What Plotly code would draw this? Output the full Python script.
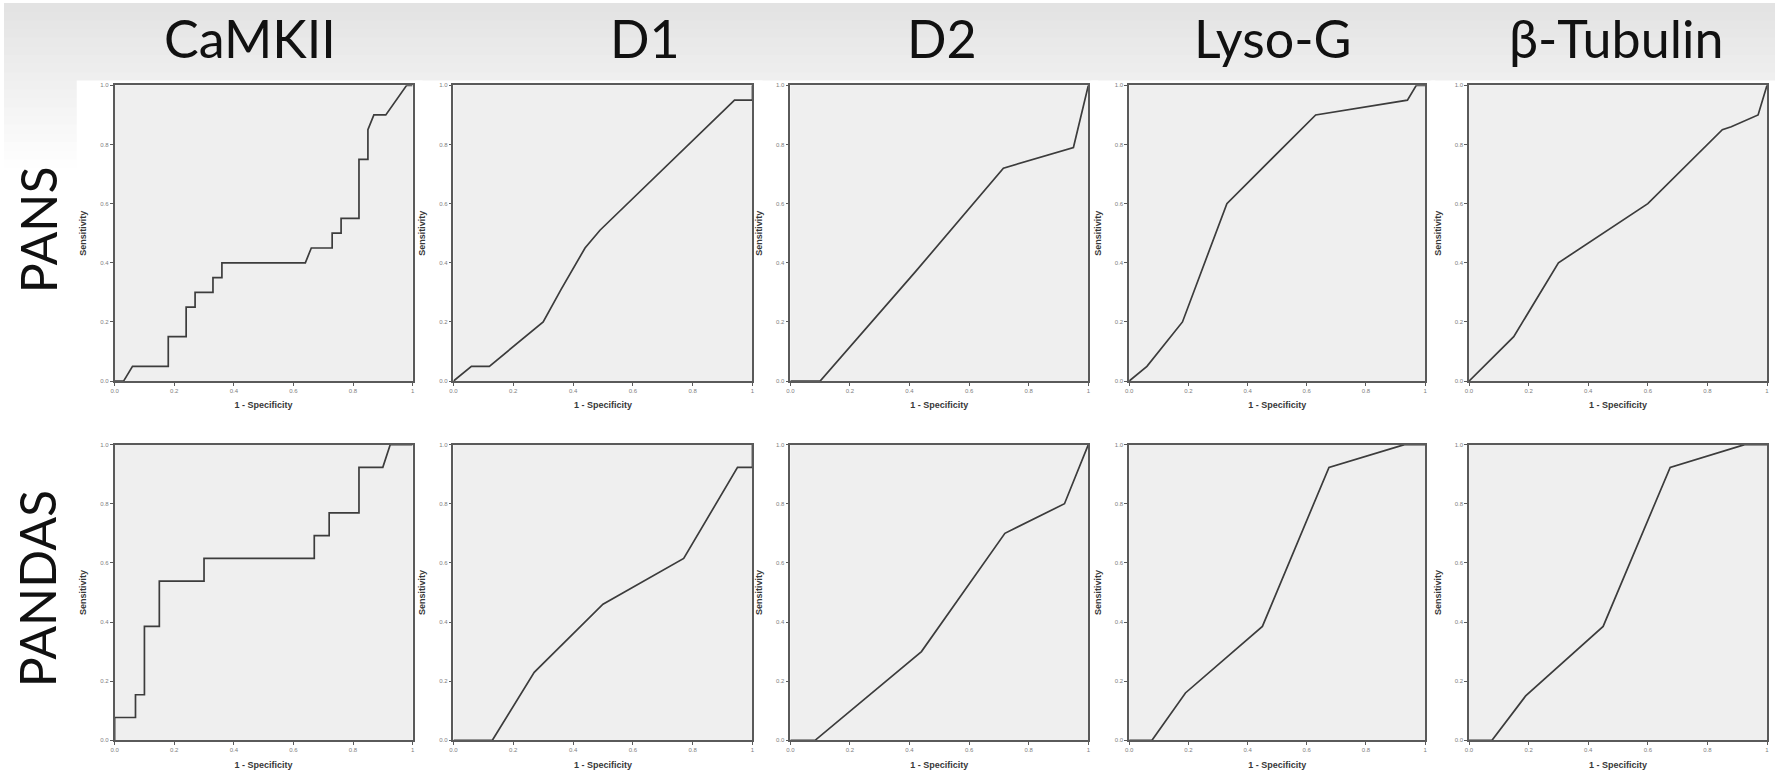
import plotly.graph_objects as go

# ---------------- data ----------------
markers = ["CaMKII", "D1", "D2", "Lyso-G", "β-Tubulin"]
groups = ["PANS", "PANDAS"]

# PANS row (1 - specificity, sensitivity)
camkii_pans_x = [0, 0.03, 0.06, 0.18, 0.18, 0.24, 0.24, 0.27, 0.27, 0.33, 0.33, 0.36, 0.36, 0.64, 0.66,
                 0.73, 0.73, 0.76, 0.76, 0.82, 0.82, 0.85, 0.85, 0.87, 0.91, 0.98, 1.0]
camkii_pans_y = [0, 0, 0.05, 0.05, 0.15, 0.15, 0.25, 0.25, 0.30, 0.30, 0.35, 0.35, 0.40, 0.40, 0.45,
                 0.45, 0.50, 0.50, 0.55, 0.55, 0.75, 0.75, 0.85, 0.90, 0.90, 1.0, 1.0]
d1_pans_x = [0, 0.06, 0.12, 0.30, 0.36, 0.44, 0.49, 0.94, 1.0, 1.0]
d1_pans_y = [0, 0.05, 0.05, 0.20, 0.31, 0.45, 0.51, 0.95, 0.95, 1.0]
d2_pans_x = [0, 0.10, 0.42, 0.715, 0.95, 1.0]
d2_pans_y = [0, 0, 0.37, 0.72, 0.79, 1.0]
lyso_pans_x = [0, 0.06, 0.18, 0.33, 0.63, 0.94, 0.97, 1.0]
lyso_pans_y = [0, 0.05, 0.20, 0.60, 0.90, 0.95, 1.0, 1.0]
tub_pans_x = [0, 0.15, 0.30, 0.60, 0.85, 0.88, 0.97, 1.0]
tub_pans_y = [0, 0.15, 0.40, 0.60, 0.85, 0.86, 0.90, 1.0]

# PANDAS row
camkii_pandas_x = [0, 0, 0.07, 0.07, 0.10, 0.10, 0.15, 0.15, 0.30, 0.30, 0.67, 0.67, 0.72, 0.72,
                   0.82, 0.82, 0.90, 0.925, 1.0]
camkii_pandas_y = [0, 0.077, 0.077, 0.154, 0.154, 0.385, 0.385, 0.538, 0.538, 0.615, 0.615, 0.692,
                   0.692, 0.769, 0.769, 0.923, 0.923, 1.0, 1.0]
d1_pandas_x = [0, 0.13, 0.27, 0.50, 0.77, 0.95, 1.0, 1.0]
d1_pandas_y = [0, 0, 0.23, 0.46, 0.615, 0.923, 0.923, 1.0]
d2_pandas_x = [0, 0.083, 0.44, 0.72, 0.92, 1.0]
d2_pandas_y = [0, 0, 0.30, 0.70, 0.80, 1.0]
lyso_pandas_x = [0, 0.077, 0.19, 0.45, 0.675, 0.93, 1.0]
lyso_pandas_y = [0, 0, 0.16, 0.385, 0.923, 1.0, 1.0]
tub_pandas_x = [0, 0.077, 0.19, 0.45, 0.675, 0.925, 1.0]
tub_pandas_y = [0, 0, 0.15, 0.385, 0.923, 1.0, 1.0]

x_tick_vals = [0, 0.2, 0.4, 0.6, 0.8, 1.0]
x_tick_text = ["0.0", "0.2", "0.4", "0.6", "0.8", "1"]
y_tick_vals = [0, 0.2, 0.4, 0.6, 0.8, 1.0]
y_tick_text = ["0.0", "0.2", "0.4", "0.6", "0.8", "1.0"]

series = [
    [(camkii_pans_x, camkii_pans_y), (d1_pans_x, d1_pans_y), (d2_pans_x, d2_pans_y),
     (lyso_pans_x, lyso_pans_y), (tub_pans_x, tub_pans_y)],
    [(camkii_pandas_x, camkii_pandas_y), (d1_pandas_x, d1_pandas_y), (d2_pandas_x, d2_pandas_y),
     (lyso_pandas_x, lyso_pandas_y), (tub_pandas_x, tub_pandas_y)],
]

# ---------------- layout ----------------
W, H = 1777, 781
cols_px = [(111, 410), (451, 751), (789, 1088), (1129, 1426), (1470, 1769)]
rows_px = [(83, 381), (445, 743)]
title_cx = [247, 643, 941, 1273, 1617]
row_label_cy = [228, 590]

PLOT_BG = "#efefef"
AX_COL = "#5a5a5a"
LINE_COL = "#3c3c3c"

fig = go.Figure()
layout = dict(
    width=W, height=H, margin=dict(l=0, r=0, t=0, b=0),
    paper_bgcolor="white", plot_bgcolor=PLOT_BG, showlegend=False,
)
shapes = []
# slide-like grey gradient at the top
n_bands = 20
top_c, bot_c = 0xe3, 0xff
band_h = 175 / n_bands
for i in range(n_bands):
    c = int(round(top_c + (bot_c - top_c) * i / (n_bands - 1)))
    col = f"rgb({c},{c},{c})"
    shapes.append(dict(type="rect", xref="paper", yref="paper", layer="below",
                       x0=0, x1=1, y0=1 - (i + 1) * band_h / H - 0.001, y1=1 - i * band_h / H,
                       fillcolor=col, line=dict(width=0)))
# white chart-image backgrounds
for r, (t, b) in enumerate(rows_px):
    for c, (l, rr) in enumerate(cols_px):
        shapes.append(dict(type="rect", xref="paper", yref="paper", layer="below",
                           x0=(l - 38) / W, x1=(rr + 10) / W, y0=1 - (b + 40) / H, y1=1 - (t - 5) / H,
                           fillcolor="white", line=dict(width=0)))
# plot-area fills
for r, (t, b) in enumerate(rows_px):
    for c, (l, rr) in enumerate(cols_px):
        shapes.append(dict(type="rect", xref="paper", yref="paper", layer="below",
                           x0=l / W, x1=rr / W, y0=1 - b / H, y1=1 - t / H,
                           fillcolor=PLOT_BG, line=dict(width=0)))

k = 0
for r, (t, b) in enumerate(rows_px):
    for c, (l, rr) in enumerate(cols_px):
        k += 1
        xs, ys = series[r][c]
        xa = "x" if k == 1 else f"x{k}"
        ya = "y" if k == 1 else f"y{k}"
        fig.add_trace(go.Scatter(x=xs, y=ys, mode="lines", xaxis=xa, yaxis=ya,
                                 line=dict(color=LINE_COL, width=1.7), hoverinfo="skip"))
        xkey = "xaxis" if k == 1 else f"xaxis{k}"
        ykey = "yaxis" if k == 1 else f"yaxis{k}"
        layout[xkey] = dict(
            domain=[l / W, rr / W], anchor=ya, range=[0, 1],
            showgrid=False, zeroline=False, showline=True, mirror=True,
            linecolor=AX_COL, linewidth=1.6,
            ticks="outside", ticklen=3, tickwidth=1, tickcolor=AX_COL,
            tickvals=x_tick_vals, ticktext=x_tick_text,
            tickfont=dict(size=6, color="#808080", family="Liberation Sans"),
            title=dict(text="<b>1 - Specificity</b>", standoff=9,
                       font=dict(size=9, color="#383838", family="Liberation Sans")),
        )
        layout[ykey] = dict(
            domain=[1 - b / H, 1 - t / H], anchor=xa, range=[0, 1],
            showgrid=False, zeroline=False, showline=True, mirror=True,
            linecolor=AX_COL, linewidth=1.6,
            ticks="outside", ticklen=3, tickwidth=1, tickcolor=AX_COL,
            tickvals=y_tick_vals, ticktext=y_tick_text,
            tickfont=dict(size=6, color="#808080", family="Liberation Sans"),
            title=dict(text="<b>Sensitivity</b>", standoff=12,
                       font=dict(size=9, color="#383838", family="Liberation Sans")),
        )

annotations = []
for name, cx in zip(markers, title_cx):
    annotations.append(dict(text=name, x=cx / W, y=1 - 35 / H, xref="paper", yref="paper",
                            showarrow=False, xanchor="center", yanchor="middle",
                            font=dict(size=52, color="#111111", family="Lato")))
for name, cy in zip(groups, row_label_cy):
    annotations.append(dict(text=name, x=34 / W, y=1 - cy / H, xref="paper", yref="paper",
                            showarrow=False, xanchor="center", yanchor="middle", textangle=-90,
                            font=dict(size=50, color="#111111", family="Lato")))

layout["shapes"] = shapes
layout["annotations"] = annotations
fig.update_layout(**layout)
fig.write_html("out.html")
